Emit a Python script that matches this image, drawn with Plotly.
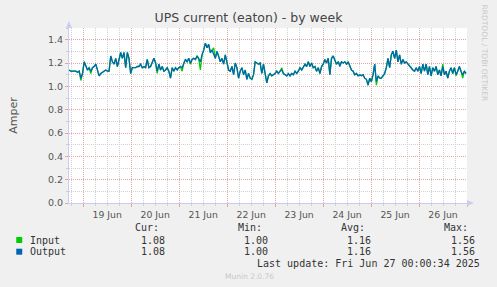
import plotly.graph_objects as go
import pandas as pd

# ---------------- data ----------------
start_time = "2025-06-18 17:00"
sample_step = "2990s"

output_amps = [
    1.14, 1.13, 1.13, 1.13, 1.13, 1.12, 1.13, 1.07, 1.11, 1.21, 1.17, 1.14, 1.16, 1.13, 1.16, 1.17, 1.19, 1.13, 1.09, 1.11,
    1.12, 1.13, 1.14, 1.13, 1.13, 1.26, 1.21, 1.19, 1.24, 1.17, 1.23, 1.29, 1.24, 1.29, 1.16, 1.29, 1.24, 1.11, 1.16, 1.16,
    1.16, 1.17, 1.17, 1.19, 1.16, 1.17, 1.16, 1.23, 1.16, 1.17, 1.20, 1.24, 1.20, 1.13, 1.19, 1.14, 1.17, 1.13, 1.14, 1.16,
    1.13, 1.07, 1.16, 1.13, 1.16, 1.14, 1.16, 1.17, 1.16, 1.20, 1.23, 1.21, 1.24, 1.20, 1.23, 1.24, 1.23, 1.26, 1.24, 1.21,
    1.27, 1.31, 1.37, 1.33, 1.36, 1.29, 1.31, 1.27, 1.24, 1.30, 1.26, 1.21, 1.24, 1.19, 1.27, 1.20, 1.14, 1.13, 1.17, 1.10,
    1.20, 1.16, 1.07, 1.13, 1.16, 1.10, 1.14, 1.06, 1.11, 1.07, 1.06, 1.10, 1.21, 1.20, 1.19, 1.20, 1.11, 1.19, 1.10, 1.03,
    1.09, 1.11, 1.09, 1.10, 1.11, 1.13, 1.11, 1.13, 1.14, 1.11, 1.10, 1.09, 1.11, 1.09, 1.11, 1.10, 1.13, 1.11, 1.13, 1.16,
    1.14, 1.16, 1.19, 1.17, 1.21, 1.17, 1.20, 1.16, 1.17, 1.13, 1.16, 1.11, 1.17, 1.19, 1.23, 1.20, 1.24, 1.10, 1.24, 1.26,
    1.23, 1.19, 1.21, 1.17, 1.21, 1.20, 1.21, 1.19, 1.21, 1.17, 1.14, 1.13, 1.10, 1.11, 1.09, 1.10, 1.09, 1.10, 1.07, 1.06,
    1.01, 1.07, 1.04, 1.10, 1.19, 1.04, 1.09, 1.07, 1.07, 1.09, 1.11, 1.16, 1.24, 1.16, 1.27, 1.30, 1.24, 1.31, 1.21, 1.27,
    1.19, 1.23, 1.20, 1.21, 1.19, 1.17, 1.16, 1.14, 1.13, 1.16, 1.13, 1.17, 1.11, 1.19, 1.13, 1.19, 1.10, 1.17, 1.09, 1.16,
    1.13, 1.17, 1.10, 1.14, 1.09, 1.17, 1.10, 1.13, 1.07, 1.13, 1.16, 1.11, 1.16, 1.10, 1.13, 1.17, 1.13, 1.10, 1.13, 1.11,
]

input_amps = [
    1.14, 1.13, 1.13, 1.13, 1.13, 1.12, 1.13, 1.05, 1.11, 1.21, 1.17, 1.14, 1.16, 1.11, 1.16, 1.17, 1.19, 1.13, 1.09, 1.11,
    1.12, 1.13, 1.14, 1.13, 1.13, 1.26, 1.21, 1.19, 1.24, 1.17, 1.23, 1.29, 1.24, 1.29, 1.16, 1.29, 1.24, 1.11, 1.16, 1.16,
    1.16, 1.17, 1.17, 1.19, 1.16, 1.17, 1.16, 1.23, 1.16, 1.17, 1.20, 1.24, 1.20, 1.11, 1.19, 1.14, 1.17, 1.13, 1.14, 1.16,
    1.13, 1.07, 1.16, 1.13, 1.16, 1.14, 1.16, 1.17, 1.13, 1.20, 1.23, 1.21, 1.24, 1.19, 1.23, 1.24, 1.23, 1.26, 1.24, 1.14,
    1.27, 1.31, 1.37, 1.33, 1.36, 1.29, 1.31, 1.33, 1.24, 1.30, 1.26, 1.21, 1.24, 1.19, 1.27, 1.20, 1.14, 1.13, 1.17, 1.10,
    1.20, 1.16, 1.07, 1.13, 1.16, 1.10, 1.14, 1.06, 1.11, 1.07, 1.06, 1.10, 1.21, 1.20, 1.19, 1.20, 1.11, 1.19, 1.10, 1.03,
    1.09, 1.11, 1.09, 1.10, 1.11, 1.13, 1.11, 1.13, 1.16, 1.11, 1.10, 1.09, 1.11, 1.09, 1.11, 1.10, 1.13, 1.11, 1.13, 1.16,
    1.14, 1.16, 1.19, 1.17, 1.21, 1.17, 1.20, 1.16, 1.17, 1.13, 1.16, 1.11, 1.17, 1.19, 1.23, 1.20, 1.24, 1.10, 1.24, 1.26,
    1.23, 1.19, 1.21, 1.19, 1.21, 1.20, 1.21, 1.19, 1.21, 1.17, 1.14, 1.13, 1.10, 1.11, 1.09, 1.10, 1.09, 1.10, 1.07, 1.06,
    1.01, 1.07, 1.04, 1.10, 1.19, 1.01, 1.09, 1.07, 1.07, 1.09, 1.11, 1.16, 1.24, 1.16, 1.27, 1.30, 1.24, 1.31, 1.21, 1.27,
    1.19, 1.23, 1.20, 1.21, 1.19, 1.17, 1.16, 1.14, 1.13, 1.16, 1.13, 1.17, 1.11, 1.19, 1.13, 1.19, 1.10, 1.17, 1.09, 1.16,
    1.13, 1.17, 1.10, 1.14, 1.09, 1.19, 1.10, 1.13, 1.07, 1.13, 1.16, 1.11, 1.16, 1.09, 1.13, 1.17, 1.13, 1.07, 1.13, 1.11,
]

series_names = ["Input", "Output"]
series_colors = ["#00CC00", "#0066B3"]
stat_headers = ["Cur:", "Min:", "Avg:", "Max:"]
input_stats = ["1.08", "1.00", "1.16", "1.56"]
output_stats = ["1.08", "1.00", "1.16", "1.56"]
x_range = ["2025-06-18 16:53", "2025-06-27 00:00"]
title_text = "UPS current (eaton) - by week"
y_title = "Amper"
last_update = "Last update: Fri Jun 27 00:00:34 2025"
footer = "Munin 2.0.76"
side_text = "RRDTOOL / TOBI OETIKER"

times = pd.date_range(start_time, periods=len(output_amps), freq=sample_step)

# ---------------- geometry helpers ----------------
W, H = 497, 287
PL, PR, PT, PB = 67, 467, 28, 203


def px(x):
    return (x - PL) / (PR - PL)


def py(y):
    return (PB - y) / (PB - PT)


fig = go.Figure()
for name, vals, col in zip(series_names, [input_amps, output_amps], series_colors):
    fig.add_trace(go.Scatter(x=times, y=vals, mode="lines", name=name,
                             line=dict(color=col, width=1.3), hoverinfo="skip"))

RED = "#E6A4A4"
GRAY = "#D0D0D0"
AXIS = "#C8CEF2"
DASH = "1px,1px"

fig.update_layout(
    width=W, height=H,
    margin=dict(l=PL, r=W - PR, t=PT, b=H - PB, pad=0),
    paper_bgcolor="#F0F0F0", plot_bgcolor="#FFFFFF",
    showlegend=False,
    font=dict(family="DejaVu Sans", color="#555555"),
    title=dict(text=title_text, x=0.5, xref="container", xanchor="center",
               y=1 - 18 / H, yref="container", yanchor="middle",
               font=dict(size=12.5, color="#444444", family="DejaVu Sans")),
    xaxis=dict(
        type="date", range=x_range, tickmode="linear", tick0="2025-06-19",
        dtick=86400000, tickformat="%d %b", ticklabelmode="period",
        showgrid=True, gridcolor=RED, griddash=DASH, gridwidth=1,
        ticks="outside", ticklen=3, tickcolor=RED,
        minor=dict(dtick=21600000, tick0="2025-06-19", showgrid=True,
                   gridcolor=GRAY, griddash=DASH, ticks="outside", ticklen=2, tickcolor=GRAY),
        showline=True, linecolor=AXIS, linewidth=1, zeroline=False,
        tickfont=dict(size=9.3, color="#555555"),
    ),
    yaxis=dict(
        range=[0, 1.5], tickmode="linear", tick0=0, dtick=0.2, tickformat=".1f",
        showgrid=True, gridcolor=RED, griddash=DASH, gridwidth=1,
        ticks="outside", ticklen=3, tickcolor=RED,
        minor=dict(dtick=0.1, showgrid=True, gridcolor=GRAY, griddash=DASH,
                   ticks="outside", ticklen=2, tickcolor=GRAY),
        showline=True, linecolor=AXIS, linewidth=1, zeroline=False,
        tickfont=dict(size=9.5, color="#555555"),
        title=dict(text=y_title, standoff=28, font=dict(size=11, color="#555555")),
    ),
)

shapes = []
# axis arrows
shapes.append(dict(type="path", xref="paper", yref="paper", xsizemode="pixel", ysizemode="pixel",
                   xanchor=0, yanchor=1, path="M -3,0 L 3,0 L 0,7 Z",
                   fillcolor=AXIS, line=dict(width=0)))
shapes.append(dict(type="path", xref="paper", yref="paper", xsizemode="pixel", ysizemode="pixel",
                   xanchor=1, yanchor=0, path="M 0,-3 L 0,3 L 7,0 Z",
                   fillcolor=AXIS, line=dict(width=0)))
# legend colour squares
for i, col in enumerate(series_colors):
    yc = 240 + i * 11.7
    shapes.append(dict(type="rect", xref="paper", yref="paper",
                       x0=px(14), x1=px(20), y0=py(yc + 3), y1=py(yc - 3),
                       fillcolor=col, line=dict(width=0)))
fig.update_layout(shapes=shapes)

MONO = "DejaVu Sans Mono"
ann = []
head_right = [159, 263, 366, 470]
val_right = [165, 269, 373, 477]
for h, xr in zip(stat_headers, head_right):
    ann.append(dict(text=h, x=px(xr), y=py(227.7), xanchor="right", yanchor="middle"))
for i, (name, stats) in enumerate(zip(series_names, [input_stats, output_stats])):
    yc = 240 + i * 11.7
    ann.append(dict(text=name, x=px(26), y=py(yc), xanchor="left", yanchor="middle"))
    for v, xr in zip(stats, val_right):
        ann.append(dict(text=v, x=px(xr), y=py(yc), xanchor="right", yanchor="middle"))
ann.append(dict(text=last_update, x=px(482), y=py(263.3), xanchor="right", yanchor="middle"))
for a in ann:
    a.update(xref="paper", yref="paper", showarrow=False,
             font=dict(family=MONO, size=10, color="#333333"))
ann.append(dict(text=footer, x=px(248), y=py(276.3), xref="paper", yref="paper",
                xanchor="center", yanchor="middle", showarrow=False,
                font=dict(family="DejaVu Sans", size=7.5, color="#C8C8C8")))
ann.append(dict(text=side_text, x=px(485), y=py(53.5), xref="paper", yref="paper",
                xanchor="center", yanchor="middle", showarrow=False, textangle=90,
                font=dict(family="DejaVu Sans", size=7.5, color="#C8C8C8")))
fig.update_layout(annotations=ann)

fig.write_html("out.html")
